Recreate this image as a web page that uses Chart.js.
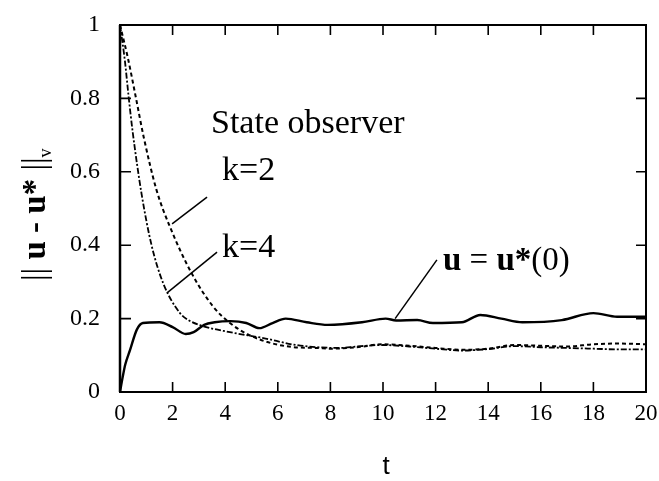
<!DOCTYPE html>
<html>
<head>
<meta charset="utf-8">
<script src="https://cdn.jsdelivr.net/npm/chart.js@4"></script>
<style>
  body { margin: 0; background: #fff; }
  #wrap { width: 659px; height: 481px; }
</style>
</head>
<body>
<div id="wrap"><canvas id="chart" width="659" height="481"></canvas></div>
<script>
// Values
const tSolid = [0, 0.1, 0.2, 0.38, 0.64, 0.87, 1.5, 2.0, 2.5, 2.8, 3.2, 3.6, 4.2, 4.8, 5.3, 5.8, 6.3, 7.1, 7.9, 9.2, 10.1, 10.5, 11.3, 11.9, 13.0, 13.7, 14.5, 15.3, 16.8, 18.0, 18.9, 20];
const vSolid = [0, 0.04, 0.075, 0.114, 0.17, 0.188, 0.19, 0.177, 0.158, 0.163, 0.183, 0.19, 0.193, 0.188, 0.174, 0.188, 0.2, 0.19, 0.183, 0.19, 0.2, 0.195, 0.196, 0.188, 0.19, 0.21, 0.2, 0.19, 0.196, 0.215, 0.205, 0.205];

const tK2 = [0, 0.3, 0.61, 0.9, 1.39, 1.9, 2.72, 3.55, 4.18, 5.07, 6.5, 7.5, 8, 9, 10, 11, 12, 13, 14, 15, 16, 17, 18, 19, 20];
const vK2 = [1.0, 0.91, 0.80, 0.695, 0.55, 0.45, 0.324, 0.232, 0.188, 0.15, 0.123, 0.12, 0.118, 0.122, 0.13, 0.126, 0.12, 0.115, 0.118, 0.128, 0.126, 0.124, 0.13, 0.132, 0.13];

const tK4 = [0, 0.19, 0.32, 0.48, 0.82, 1.2, 1.65, 2.28, 2.6, 3.04, 4.18, 5.45, 6.7, 8.4, 9, 10, 11, 12, 13, 14, 15, 16, 17, 18, 19, 20];
const vK4 = [1.0, 0.9, 0.81, 0.71, 0.54, 0.40, 0.295, 0.215, 0.196, 0.182, 0.163, 0.147, 0.128, 0.12, 0.124, 0.128, 0.124, 0.118, 0.113, 0.117, 0.125, 0.122, 0.12, 0.118, 0.116, 0.116];

const xTicks = [0, 2, 4, 6, 8, 10, 12, 14, 16, 18, 20];
const yTicks = [0, 0.2, 0.4, 0.6, 0.8, 1];

const SERIF = '"Liberation Serif", "Times New Roman", serif';

const toPoints = (ts, vs) => ts.map((t, i) => ({ x: t, y: vs[i] }));

// frame, inward ticks, labels and leader lines
const decorations = {
    id: 'decorations',
    afterDraw(chart) {
        const { ctx, chartArea: a, scales: { x, y } } = chart;
        ctx.save();
        ctx.strokeStyle = '#000';
        ctx.fillStyle = '#000';

        // box
        ctx.lineWidth = 2;
        ctx.strokeRect(a.left, a.top, a.right - a.left, a.bottom - a.top);
        ctx.lineWidth = 2.5;
        ctx.beginPath();
        ctx.moveTo(a.left, a.top);
        ctx.lineTo(a.left, a.bottom);
        ctx.stroke();

        // inward ticks on all sides
        ctx.lineWidth = 1.6;
        ctx.beginPath();
        xTicks.forEach(t => {
            const px = x.getPixelForValue(t);
            ctx.moveTo(px, a.bottom); ctx.lineTo(px, a.bottom - 10);
            ctx.moveTo(px, a.top); ctx.lineTo(px, a.top + 10);
        });
        yTicks.forEach(v => {
            const py = y.getPixelForValue(v);
            ctx.moveTo(a.left, py); ctx.lineTo(a.left + 11, py);
            ctx.moveTo(a.right, py); ctx.lineTo(a.right - 10, py);
        });
        ctx.stroke();

        // leader lines
        ctx.lineWidth = 1.5;
        const lead = (t1, v1, t2, v2) => {
            ctx.beginPath();
            ctx.moveTo(x.getPixelForValue(t1), y.getPixelForValue(v1));
            ctx.lineTo(x.getPixelForValue(t2), y.getPixelForValue(v2));
            ctx.stroke();
        };
        lead(3.31, 0.531, 1.98, 0.458);
        lead(3.69, 0.381, 1.79, 0.27);
        lead(12.05, 0.36, 10.46, 0.2);

        // annotation text
        ctx.textBaseline = 'alphabetic';
        ctx.textAlign = 'left';
        ctx.font = '34px ' + SERIF;
        ctx.fillText('State observer', x.getPixelForValue(3.46), y.getPixelForValue(0.706));
        ctx.fillText('k=2', x.getPixelForValue(3.88), y.getPixelForValue(0.578));
        ctx.fillText('k=4', x.getPixelForValue(3.88), y.getPixelForValue(0.368));

        // u = u*(0), bold u
        let px = x.getPixelForValue(12.28);
        const py = y.getPixelForValue(0.332);
        const parts = [
            ['u', 'bold 33px '], [' = ', '33px '], ['u', 'bold 33px '],
            ['*', 'bold 33px '], ['(0)', '33px ']
        ];
        parts.forEach(([s, f]) => {
            ctx.font = f + SERIF;
            ctx.fillText(s, px, py);
            px += ctx.measureText(s).width;
        });

        // y axis title, rotated
        ctx.save();
        ctx.translate(45, 281);
        ctx.rotate(-Math.PI / 2);
        const yParts = [
            ['||', '33px ', 0], [' u', 'bold 33px ', 0], [' - ', 'bold 33px ', 0],
            ['u', 'bold 33px ', 0], ['*', 'bold 33px ', 0], [' ||', '33px ', 0],
            ['v', '18px ', 6]
        ];
        let tx = 0;
        yParts.forEach(([s, f, dy]) => {
            ctx.font = f + SERIF;
            ctx.fillText(s, tx, dy);
            tx += ctx.measureText(s).width;
        });
        ctx.restore();

        // x axis title
        ctx.font = '26px "Liberation Sans", Arial, sans-serif';
        ctx.textAlign = 'center';
        ctx.fillText('t', (a.left + a.right) / 2 + 3, 474);

        ctx.restore();
    }
};

new Chart(document.getElementById('chart'), {
    type: 'line',
    data: {
        datasets: [
            {
                label: 'u = u*(0)',
                data: toPoints(tSolid, vSolid),
                borderColor: '#000',
                borderWidth: 2.4,
                pointRadius: 0,
                cubicInterpolationMode: 'monotone'
            },
            {
                label: 'k=2',
                data: toPoints(tK2, vK2),
                borderColor: '#000',
                borderWidth: 2,
                borderDash: [4, 3],
                pointRadius: 0,
                cubicInterpolationMode: 'monotone'
            },
            {
                label: 'k=4',
                data: toPoints(tK4, vK4),
                borderColor: '#000',
                borderWidth: 1.8,
                borderDash: [6, 2, 2, 2],
                pointRadius: 0,
                cubicInterpolationMode: 'monotone'
            }
        ]
    },
    options: {
        responsive: false,
        animation: false,
        devicePixelRatio: 1,
        layout: { padding: { top: 25, right: 13, left: 0, bottom: 0 } },
        plugins: { legend: { display: false }, tooltip: { enabled: false } },
        scales: {
            x: {
                type: 'linear',
                min: 0,
                max: 20,
                afterFit: s => {
                    s.height = 89;
                    s.paddingLeft = 0;
                    s.paddingRight = 0;
                },
                afterBuildTicks: s => { s.ticks = xTicks.map(v => ({ value: v })); },
                grid: { display: false, drawTicks: false },
                border: { display: false },
                ticks: {
                    color: '#000',
                    padding: 8,
                    maxRotation: 0,
                    font: { family: SERIF, size: 23 }
                }
            },
            y: {
                min: 0,
                max: 1,
                afterFit: s => {
                    s.width = 120;
                    s.paddingTop = 0;
                    s.paddingBottom = 0;
                },
                afterBuildTicks: s => { s.ticks = yTicks.map(v => ({ value: v })); },
                grid: { display: false, drawTicks: false },
                border: { display: false },
                ticks: {
                    color: '#000',
                    padding: 20,
                    font: { family: SERIF, size: 24 },
                    callback: v => String(+v.toFixed(1))
                }
            }
        }
    },
    plugins: [decorations]
});
</script>
</body>
</html>
